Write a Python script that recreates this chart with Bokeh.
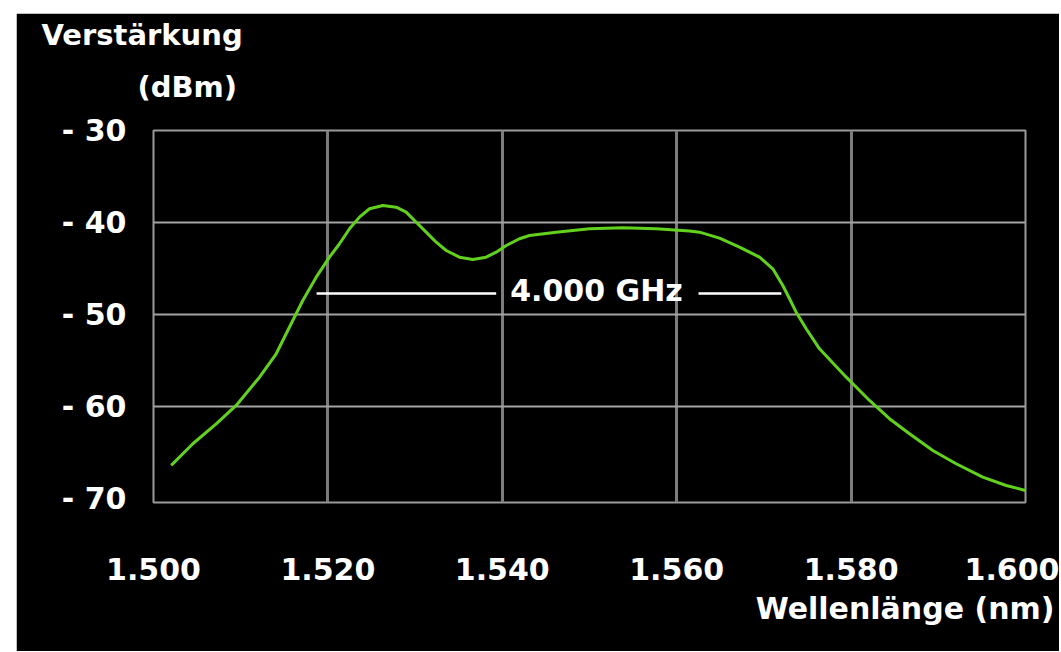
from bokeh.plotting import figure
from bokeh.models import Label, FixedTicker, Title
from bokeh.embed import file_html
from bokeh.resources import INLINE

# ---- data ----
wavelength = [1.50203, 1.50451, 1.50719, 1.50948, 1.51216, 1.51407, 1.51597, 1.51712,
              1.51866, 1.52018, 1.52133, 1.52248, 1.52362, 1.52477, 1.52630, 1.52783,
              1.52898, 1.53013, 1.53127, 1.53242, 1.53357, 1.53509, 1.53662, 1.53815,
              1.53930, 1.54045, 1.54197, 1.54312, 1.54618, 1.55000, 1.55382, 1.55765,
              1.56147, 1.56261, 1.56491, 1.56720, 1.56950, 1.57102, 1.57217, 1.57294,
              1.57370, 1.57485, 1.57638, 1.57944, 1.58020, 1.58211, 1.58440, 1.58670,
              1.58937, 1.59205, 1.59510, 1.59779, 1.60000]
gain = [-66.37, -64.02, -61.85, -59.86, -56.79, -54.25, -50.63, -48.46,
        -45.93, -43.76, -42.30, -40.67, -39.41, -38.50, -38.14, -38.33,
        -38.87, -39.96, -41.04, -42.13, -43.03, -43.76, -44.01, -43.76,
        -43.21, -42.49, -41.76, -41.40, -41.04, -40.67, -40.56, -40.67,
        -40.91, -41.04, -41.69, -42.67, -43.76, -45.02, -46.83, -48.27,
        -49.73, -51.53, -53.71, -56.79, -57.50, -59.32, -61.30, -62.93,
        -64.75, -66.19, -67.64, -68.55, -69.09]

x_ticks = [1.50, 1.52, 1.54, 1.56, 1.58, 1.60]
x_tick_labels = ["1.500", "1.520", "1.540", "1.560", "1.580", "1.600"]
x_grid = [1.52, 1.54, 1.56, 1.58]
y_ticks = [-30, -40, -50, -60, -70]
y_tick_labels = ["- 30", "- 40", "- 50", "- 60", "- 70"]
y_grid = [-40, -50, -60]

bw_text = "4.000 GHz"
bw_text_x = 1.5508
bw_text_y = -47.4
bw_x0 = [1.5187, 1.5625]
bw_x1 = [1.5393, 1.5720]
bw_y = [-47.7, -47.7]

y_title_1 = "Verstärkung"
y_title_2 = "(dBm)"
x_title = "Wellenlänge (nm)"

FONT = "DejaVu Sans"
GREY = "#9a9a9a"

p = figure(width=1043, height=638, x_range=(1.5, 1.6), y_range=(-70.4, -30),
           output_backend="svg", toolbar_location=None,
           background_fill_color="black", border_fill_color="black",
           min_border_left=137, min_border_right=34,
           min_border_top=117, min_border_bottom=149)
p.margin = (13, 0, 0, 16)

p.outline_line_color = GREY
p.outline_line_width = 2

p.xgrid.ticker = FixedTicker(ticks=x_grid)
p.xgrid.grid_line_color = "#7c7c7c"
p.xgrid.grid_line_width = 3
p.ygrid.ticker = FixedTicker(ticks=y_grid)
p.ygrid.grid_line_color = "#a4a4a4"
p.ygrid.grid_line_width = 2

for ax in (p.xaxis[0], p.yaxis[0]):
    ax.axis_line_color = None
    ax.major_tick_line_color = None
    ax.minor_tick_line_color = None
    ax.major_label_text_color = "white"
    ax.major_label_text_font = FONT
    ax.major_label_text_font_style = "bold"
    ax.major_label_text_font_size = "30px"

p.xaxis.ticker = FixedTicker(ticks=x_ticks)
p.xaxis.major_label_overrides = dict(zip(x_ticks, x_tick_labels))
p.xaxis.major_label_standoff = 49
p.yaxis.ticker = FixedTicker(ticks=y_ticks)
p.yaxis.major_label_overrides = dict(zip(y_ticks, y_tick_labels))
p.yaxis.major_label_standoff = 21

p.line(wavelength, gain, line_color="#62d11e", line_width=3)
p.segment(x0=bw_x0, y0=bw_y, x1=bw_x1, y1=bw_y, line_color="white", line_width=2.5)

p.add_layout(Label(x=bw_text_x, y=bw_text_y, text=bw_text, text_align="center",
                   text_baseline="alphabetic", text_color="white", text_font=FONT,
                   text_font_style="bold", text_font_size="30px"))


def title(text, align, offset, standoff, size):
    return Title(text=text, align=align, offset=offset, standoff=standoff,
                 text_color="white", text_font=FONT, text_font_style="bold",
                 text_font_size=size)


p.add_layout(title(y_title_2, "left", -16, 53, "29px"), "above")
p.add_layout(title(y_title_1, "left", -112, -20, "29px"), "above")
p.add_layout(title(x_title, "right", -29, 12, "30px"), "below")

open("out.html", "w").write(file_html(p, INLINE))
